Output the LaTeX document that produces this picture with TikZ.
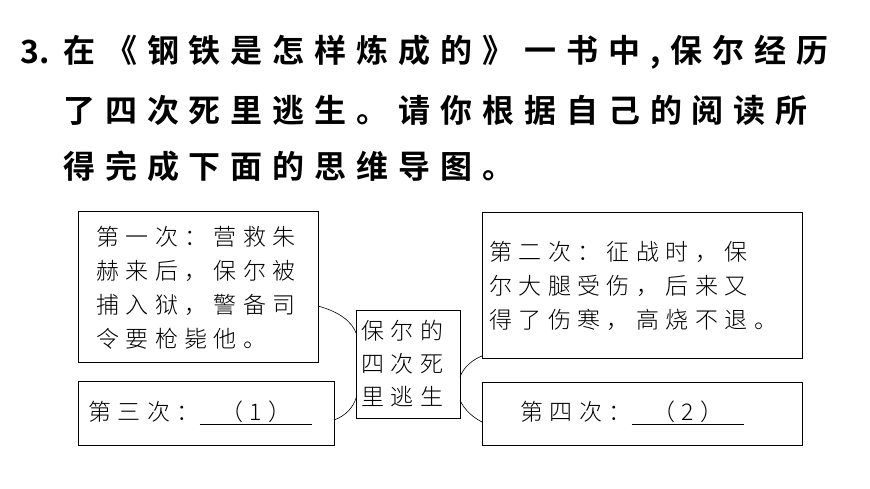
\documentclass[tikz,border=0pt]{standalone}
\usepackage{fontspec}
\newfontfamily\cjkb[LetterSpace=31]{Noto Sans CJK SC Bold}
\newfontfamily\cjkl[LetterSpace=28]{Noto Sans CJK SC Light}
\newfontfamily\cjkn{Noto Sans CJK SC Bold}
\begin{document}
\begin{tikzpicture}[x=1pt,y=-1pt,
  box/.style={draw=black, line width=0.8pt},
  txt/.style={anchor=west, inner sep=0pt, font=\cjkl\fontsize{23}{34}\selectfont, align=left},
  ttl/.style={anchor=west, inner sep=0pt, font=\cjkb\fontsize{32}{32}\selectfont}]
\useasboundingbox (0,0) rectangle (870,489);
% title
\node [ttl] (l0) at (20,52) {\cjkn 3.};
\node [ttl] (l1) at (63,52) {在《钢铁是怎样炼成的》一书中,保尔经历};
\node [ttl] (l2) at (63,110) {了四次死里逃生。请你根据自己的阅读所};
\node [ttl] (l3) at (63,166) {得完成下面的思维导图。};
% boxes
\draw [box] (78,211) rectangle (318,362);
\draw [box] (78,381) rectangle (334,445);
\draw [box] (356,310) rectangle (460,418);
\draw [box] (482,212) rectangle (802,358);
\draw [box] (482,382) rectangle (802,445);
\node [txt] (a) at (96,288) {第一次：营救朱\\赫来后，保尔被\\捕入狱，警备司\\令要枪毙他。};
\node [txt] (b) at (88,413) {第三次：\underline{\hspace{0.9em}（1）\hspace{0.9em}}};
\node [txt, font=\cjkl\fontsize{23}{33}\selectfont] (c) at (361,364) {保尔的\\四次死\\里逃生};
\node [txt] (d) at (489,286) {第二次：征战时，保\\尔大腿受伤，后来又\\得了伤寒，高烧不退。};
\node [txt] (e) at (520,413) {第四次：\underline{\hspace{0.9em}（2）\hspace{0.9em}}};
% connectors
\draw [line width=0.6pt] (318,306) .. controls (340,312) and (352,322) .. (356,333);
\draw [line width=0.6pt] (334,420) .. controls (346,416) and (354,406) .. (356,398);
\draw [line width=0.6pt] (460,377) .. controls (464,366) and (474,359) .. (482,356);
\draw [line width=0.6pt] (460,400) .. controls (464,410) and (474,418) .. (482,422);
\end{tikzpicture}
\end{document}
